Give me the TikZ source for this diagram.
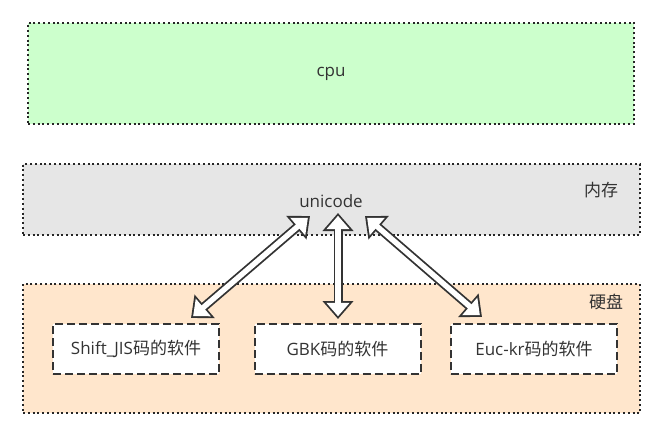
\documentclass[tikz,border=0pt]{standalone}
\usepackage{fontspec}
\setmainfont{Open Sans}
\newfontfamily\cjk{Noto Sans CJK SC}
\usetikzlibrary{arrows.meta}

\definecolor{cpugreen}{HTML}{CCFFCC}
\definecolor{memgray}{HTML}{E6E6E6}
\definecolor{diskorange}{HTML}{FFE6CC}
\definecolor{inkgray}{HTML}{333333}

\begin{document}
\begin{tikzpicture}[x=1pt,y=-1pt,font=\fontsize{17}{19}\selectfont,
                    text=inkgray]

  \tikzset{layer/.style={rectangle,draw=black!85,line width=2pt,
                         dash pattern=on 2pt off 2.8pt},
           soft/.style={rectangle,draw=black!80,line width=2pt,
                        dash pattern=on 8pt off 4pt,fill=white,
                        minimum width=166pt,minimum height=50pt},
           fat/.style={draw=black!80,line width=9pt,
                       {Triangle[length=18pt,width=30pt]}-{Triangle[length=18pt,width=30pt]},
                       postaction={draw=white,line width=5.4pt,
                                   shorten <=2.8pt,shorten >=2.8pt,
                                   {Triangle[length=13.4pt,width=22.3pt]}-{Triangle[length=13.4pt,width=22.3pt]}}}}

  \useasboundingbox[fill=white] (0,0) rectangle (655,429);

  % layers
  \node[layer,fill=cpugreen,minimum width=606pt,minimum height=101pt] (cpu) at (331,73.5) {};
  \node[layer,fill=memgray,minimum width=617pt,minimum height=71pt] (mem) at (331.5,199.5) {};
  \node[layer,fill=diskorange,minimum width=617pt,minimum height=129pt] (disk) at (331.5,348.5) {};

  \node (cpulbl) at (331,74) {cpu};
  \node (uni) at (331,201) {unicode};
  \node (memlbl) at (601,190) {\cjk 内存};
  \node (disklbl) at (606,302) {\cjk 硬盘};

  % software
  \node[soft] (sjis) at (136,349) {Shift\_JIS{\cjk 码的软件}};
  \node[soft] (gbk) at (337.5,349) {GBK{\cjk 码的软件}};
  \node[soft] (euc) at (534,349) {Euc-kr{\cjk 码的软件}};

  \coordinate (uniL) at (310,216);
  \coordinate (uniM) at (338,213);
  \coordinate (uniR) at (365,216);
  \coordinate (sjisT) at (191,318);
  \coordinate (gbkT) at (338,319);
  \coordinate (eucT) at (482,317);

  \draw[fat] (uniL) -- (sjisT);
  \draw[fat] (uniM) -- (gbkT);
  \draw[fat] (uniR) -- (eucT);
\end{tikzpicture}
\end{document}
